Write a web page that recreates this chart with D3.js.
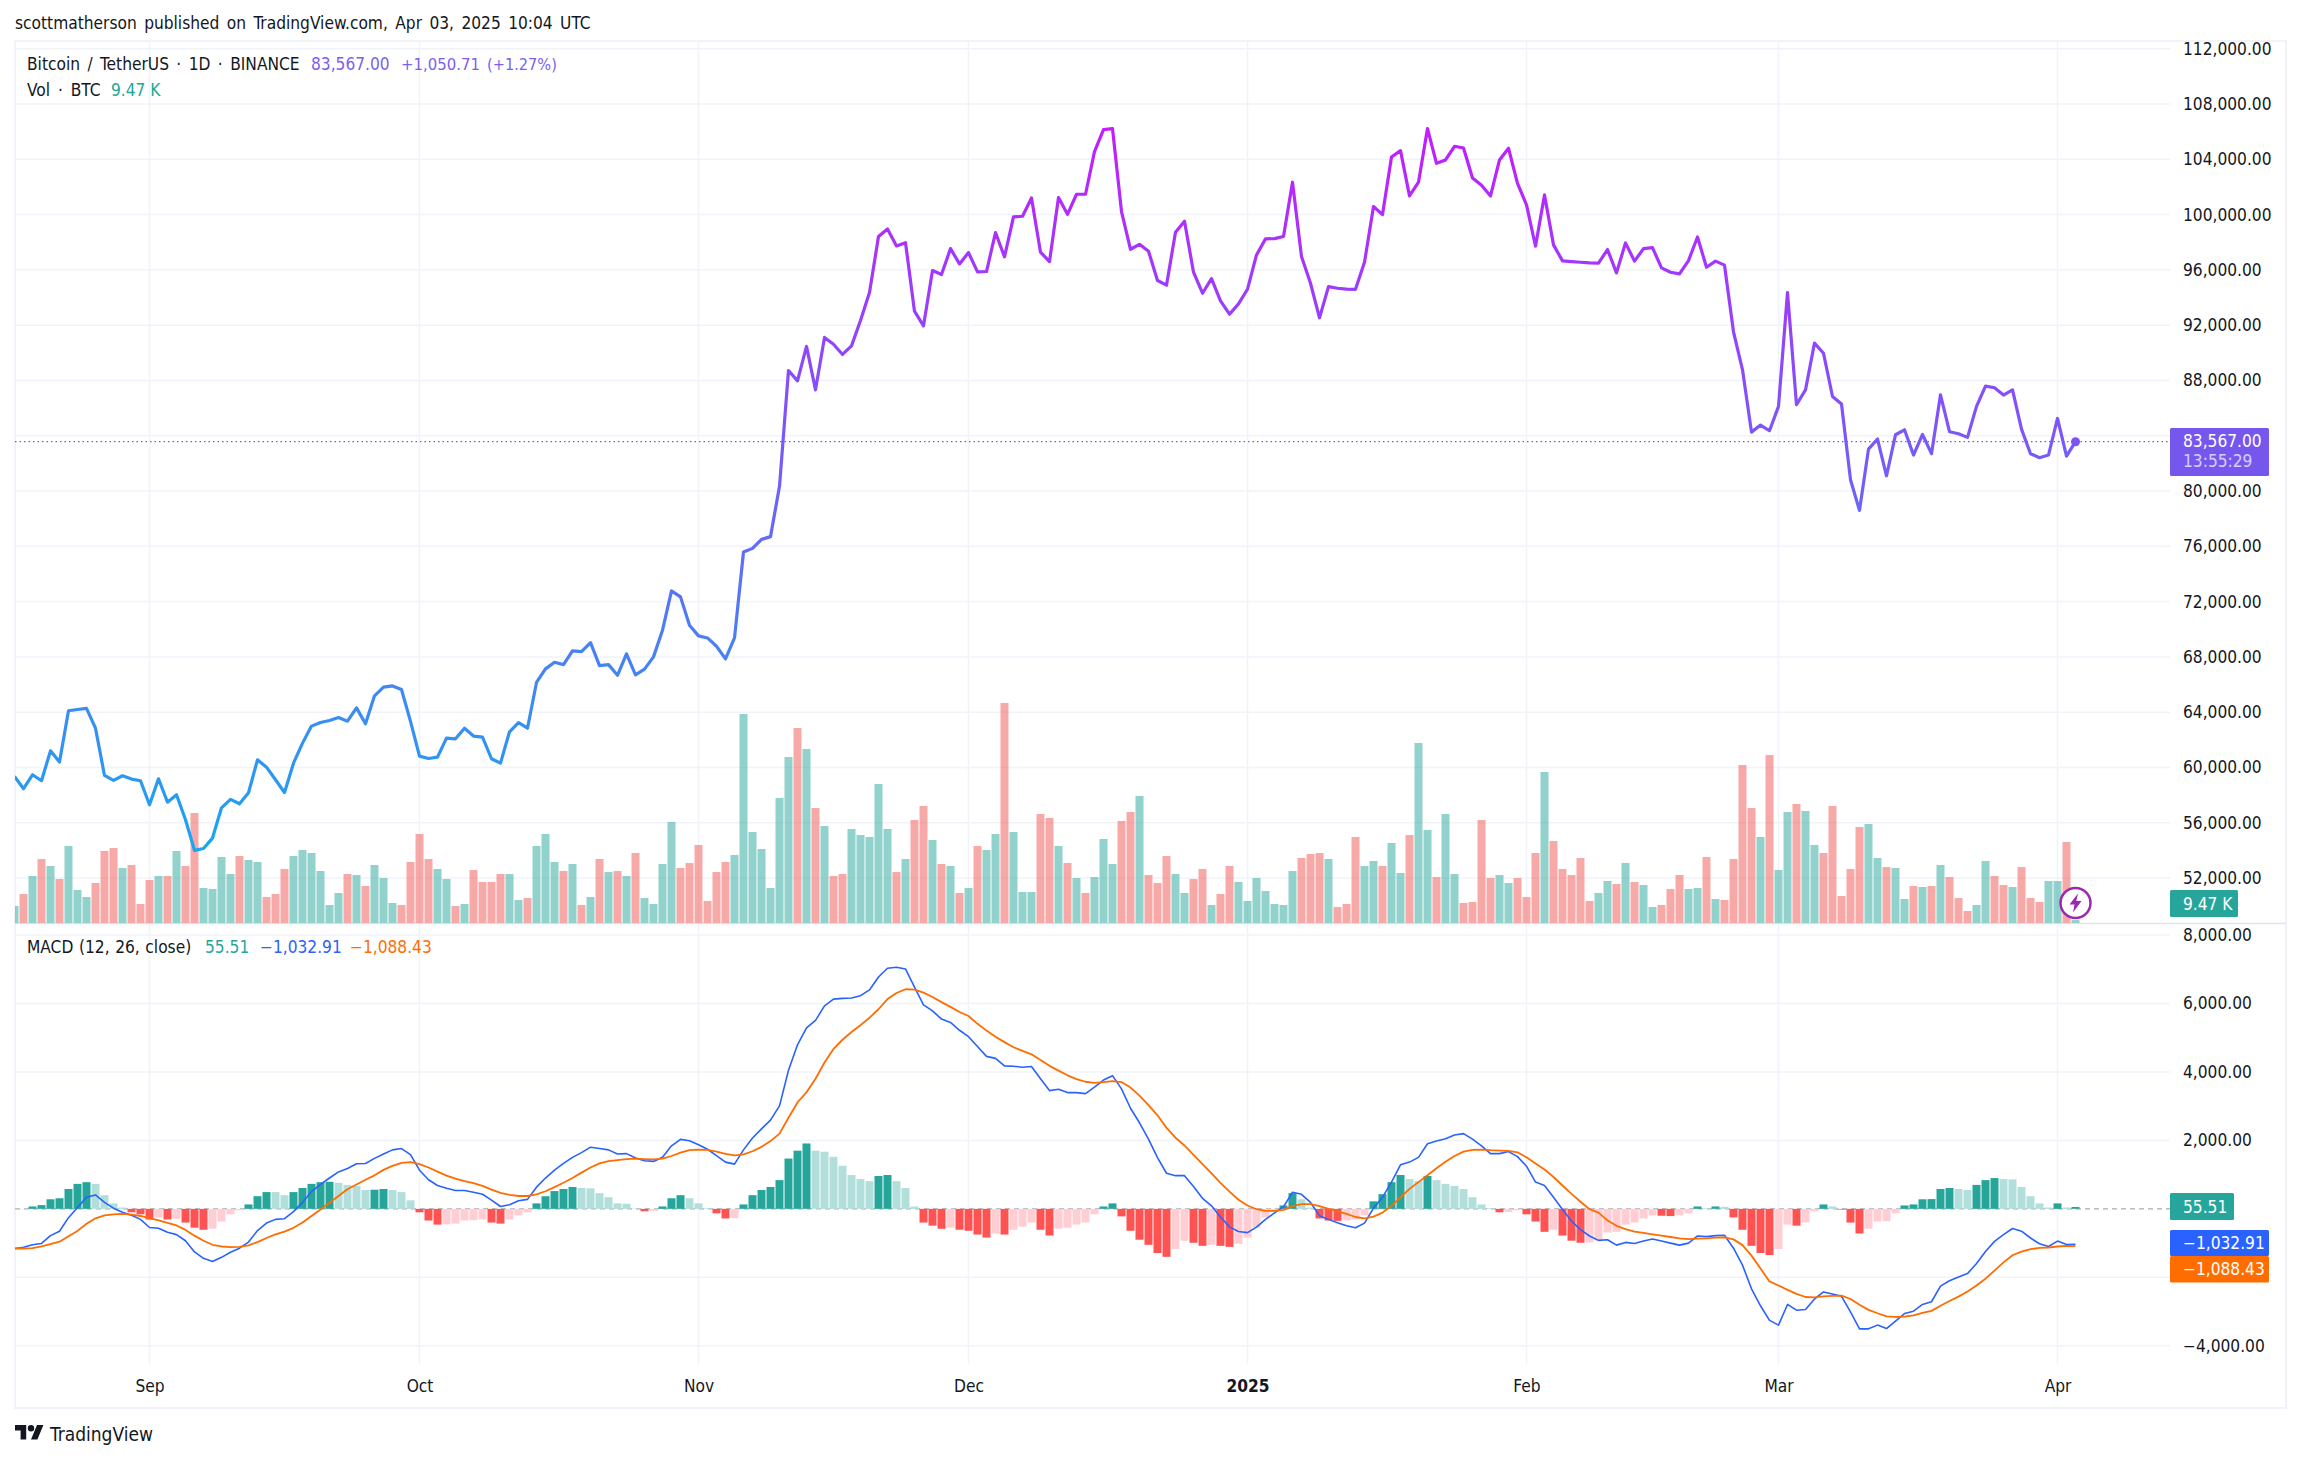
<!DOCTYPE html>
<html>
<head>
<meta charset="utf-8">
<script src="https://d3js.org/d3.v7.min.js"></script>
<style>
  html, body { margin: 0; background: #fff; }
  svg { display: block; }
  text { font-family: "DejaVu Sans Condensed", "DejaVu Sans", sans-serif; font-size: 17.2px; fill: #131722; }
</style>
</head>
<body>
<script>
// Daily bars, first one is Aug 17 2024
const firstDay = new Date(Date.UTC(2024, 7, 17));

const close = [
  59350,58460,59470,59040,61200,60390,64100,64190,64270,62840,
  59420,59060,59400,59160,59040,57300,59180,57490,58020,56220,
  54000,54140,54890,57080,57690,57370,58170,60550,60020,59110,
  58190,60310,61760,62990,63250,63400,63610,63350,64310,63160,
  65180,65810,65900,65640,63330,60820,60650,60750,62120,62070,
  62840,62270,62190,60630,60310,62580,63250,62840,66150,67130,
  67610,67440,68430,68380,69030,67370,67440,66670,68210,66700,
  67110,68000,69930,72770,72340,70290,69520,69370,68770,67850,
  69370,75590,75850,76500,76700,80340,88720,87970,90460,87320,
  91110,90620,89880,90500,92340,94360,98410,98960,97730,97970,
  93010,91950,95950,95660,97540,96430,97250,95850,95880,98700,
  96940,99830,99880,101200,97280,96600,101230,100020,101470,101470,
  104550,106140,106220,100220,97490,97850,97350,95230,94890,98720,
  99520,95830,94310,95370,93760,92790,93540,94600,97080,98240,
  98260,98410,102340,96960,95030,92530,94790,94670,94600,94590,
  96550,100580,100000,104170,104630,101350,102340,106220,103710,103950,
  104940,104820,102650,102120,101350,103950,104800,102260,100700,97710,
  101420,97810,96650,96600,96550,96500,96490,97470,95780,97950,
  96630,97540,97610,96140,95830,95710,96670,98380,96190,96630,
  96340,91520,88770,84260,84770,84360,86120,94360,86240,87320,
  90700,89970,86840,86290,80820,78600,83030,83760,81100,84070,
  84430,82600,84090,82700,86960,84290,84140,83880,86120,87590,
  87470,86940,87320,84480,82700,82410,82600,85250,82530,83567
];

// Volume in thousands of BTC
const volume = [
  16.5,22.5,31.5,40,36.5,30,46.5,24.5,21,28,
  44,45.5,35.5,37,17.5,29.5,31.5,31.5,44,36.5,
  63,25.5,25,41,32.5,41.5,39.5,38.5,21,22.5,
  35,41.5,44.5,43,34,17,23,32.5,32,26.5,
  37,30.5,18,17,38.5,52.5,40,35,30,16.5,
  17.5,34.5,28.5,28.5,32.5,32.5,19.5,20.5,46.5,52.5,
  38.5,34,37.5,17,21,40,33.5,34,31.5,43,
  20.5,17.5,37.5,58.5,35.5,38,47,19,33.5,38.5,
  42,112.5,53.5,45,25.5,70.5,91,105.5,95,65.5,
  56.5,31.5,32.5,55,52,51,77.5,55,33.5,40,
  59.5,66.5,49.5,37.5,36.5,23,25.5,46.5,44.5,52.5,
  118,53.5,23.5,23.5,62.5,60.5,46.5,38,30.5,23,
  31,50,37.5,59,63.5,71.5,32,28,41.5,32.5,
  23,30,35,17,22.5,36.5,28.5,19,30.5,24,
  17.5,17,34,40.5,42.5,43,40,16,17.5,51,
  36.5,39,36.5,48,33,52,98,54.5,31,62.5,
  32.5,18,18.5,59.5,30.5,32,28,30.5,21,43,
  83.5,49,35,32,40.5,19,23,29,27.5,38,
  28.5,27,16,17,25,32,25,25.5,41,20,
  19.5,40,87,65.5,51,92,34.5,63.5,67.5,64,
  47,43,66.5,21.5,35,56,57.5,40.5,36,35.5,
  20,26.5,26,26.5,37,31,20.5,14,17,39,
  31.5,27,26,36,20.5,18.5,29,29,48.5,9.47
];

// g = up day, r = down day
const volumeSide = [
  "grgrgrgggr","rrgrrrgrgr","rggggrggrr","rggggggrgr","gggrrrrggr","grrrrggrgg",
  "grgrgrgrgr","ggggrrrrrr","gggggggr",
  "grgrrggggg","rgrrgrgrgr","ggrgggrrgr","grgggrrgrr","rggrrgrrgg","gggggrrrgr",
  "rrggrggrgg","rggrrrrggr","rrgrrrrrgg","rgrggrrrgg","rgrrrrgrgg","rggrrrrrgg",
  "rggrgrgrrr","ggrrgrrrgg","rg"
].join("");

const histogram = [
  -10,-10,70,110,280,310,580,730,780,730,
  400,160,40,-100,-160,-310,-250,-310,-290,-400,
  -550,-610,-580,-370,-160,-40,130,370,490,490,
  400,490,610,730,780,790,760,700,670,550,
  560,580,550,490,250,-100,-340,-460,-450,-430,
  -340,-330,-310,-400,-430,-310,-190,-100,160,370,
  520,580,640,610,600,460,340,160,150,10,
  -70,-60,70,310,400,310,160,20,-130,-280,
  -270,130,400,550,640,840,1470,1700,1910,1700,
  1670,1520,1260,990,870,810,960,990,810,610,
  70,-400,-490,-580,-550,-610,-640,-750,-840,-720,
  -750,-610,-520,-400,-610,-780,-580,-550,-460,-400,
  -160,70,160,-220,-640,-900,-1050,-1290,-1400,-1170,
  -930,-990,-1080,-1050,-1080,-1110,-1020,-840,-550,-250,
  -80,100,460,280,40,-280,-340,-350,-340,-310,
  -190,220,430,780,990,870,810,960,840,730,
  670,580,340,130,20,-100,-90,-40,-160,-370,
  -670,-610,-780,-930,-990,-980,-930,-690,-670,-460,
  -400,-280,-190,-200,-210,-190,-130,70,20,70,
  60,-250,-610,-1080,-1290,-1350,-1170,-460,-490,-400,
  -70,130,70,-20,-400,-720,-580,-370,-360,-130,
  100,130,280,285,580,610,580,550,700,840,
  900,870,860,640,370,160,40,160,40,55.51
];

const macd = [
  -1158,-1119,-1049,-1010,-782,-653,-257,40,337,406,
  188,20,-99,-188,-307,-545,-564,-683,-752,-931,
  -1257,-1445,-1535,-1416,-1267,-1148,-970,-634,-416,-307,
  -287,-79,188,505,713,901,1079,1178,1317,1327,
  1475,1604,1723,1762,1584,1129,851,683,604,535,
  535,485,426,257,69,119,238,277,634,901,
  1129,1327,1505,1643,1802,1762,1723,1604,1614,1485,
  1406,1386,1505,1841,2030,1990,1871,1742,1554,1366,
  1307,1723,2069,2336,2594,3010,4049,4792,5287,5504,
  5930,6128,6148,6158,6227,6395,6772,7029,7059,7009,
  6475,5960,5782,5544,5445,5217,5029,4742,4455,4396,
  4178,4168,4138,4158,3802,3455,3495,3396,3396,3366,
  3554,3762,3891,3505,2940,2515,2039,1495,1040,970,
  970,653,307,89,-238,-525,-663,-693,-535,-307,
  -119,59,485,426,188,-198,-307,-406,-495,-554,
  -416,20,337,782,1287,1366,1505,1901,1980,2049,
  2158,2198,2039,1841,1614,1614,1673,1525,1247,782,
  683,337,-20,-356,-604,-792,-921,-901,-1059,-980,
  -1010,-941,-881,-941,-1000,-1059,-1000,-792,-812,-782,
  -772,-1148,-1643,-2336,-2831,-3257,-3396,-2792,-2960,-2940,
  -2633,-2426,-2485,-2554,-3010,-3505,-3505,-3396,-3495,-3277,
  -3059,-2990,-2792,-2713,-2257,-2099,-1990,-1891,-1594,-1247,
  -950,-752,-574,-653,-851,-1020,-1099,-941,-1040,-1032.91
];

const signal = [
  -1158,-1158,-1148,-1099,-1030,-960,-802,-644,-436,-277,
  -188,-158,-149,-168,-208,-267,-337,-406,-485,-614,
  -782,-931,-1049,-1099,-1119,-1109,-1069,-970,-851,-743,
  -663,-554,-396,-208,-20,178,376,574,713,851,
  980,1139,1257,1346,1366,1307,1208,1089,970,881,
  812,752,673,564,465,406,376,376,426,515,
  634,762,901,1059,1208,1327,1396,1426,1455,1465,
  1455,1445,1465,1544,1643,1713,1733,1723,1673,1604,
  1564,1594,1683,1812,1980,2198,2663,3109,3406,3802,
  4277,4673,4940,5168,5366,5584,5831,6128,6306,6415,
  6405,6316,6188,6039,5900,5752,5633,5405,5207,5029,
  4871,4722,4613,4514,4346,4178,4039,3901,3792,3713,
  3683,3703,3732,3703,3544,3307,3029,2732,2366,2079,
  1851,1574,1307,1040,762,505,267,99,-10,-59,
  -59,-30,79,139,139,79,0,-69,-149,-238,
  -277,-228,-109,89,337,584,782,980,1188,1376,
  1544,1673,1723,1733,1713,1703,1693,1653,1505,1327,
  1148,931,683,436,208,-10,-109,-337,-495,-594,
  -663,-703,-743,-782,-822,-861,-881,-871,-861,-842,
  -832,-891,-1059,-1366,-1742,-2119,-2237,-2366,-2485,-2574,
  -2584,-2554,-2544,-2534,-2633,-2802,-2950,-3049,-3138,-3158,
  -3148,-3109,-3039,-2980,-2831,-2693,-2564,-2416,-2237,-2039,
  -1802,-1564,-1356,-1247,-1178,-1139,-1129,-1099,-1079,-1088.43
];

const priceTicks = [112000,108000,104000,100000,96000,92000,88000,84000,80000,76000,72000,68000,64000,60000,56000,52000];
const macdTicks = [8000,6000,4000,2000,-2000,-4000];
// These two labels sit under the value tags in the reference, only their grid lines show
const coveredTicks = [84000,-2000];
const monthTicks = [[2024,8],[2024,9],[2024,10],[2024,11],[2025,0],[2025,1],[2025,2],[2025,3]];
const monthLabels = ["Sep","Oct","Nov","Dec","2025","Feb","Mar","Apr"];

const days = close.map((d, i) => d3.utcDay.offset(firstDay, i));
const monthDates = monthTicks.map(d => new Date(Date.UTC(d[0], d[1], 1)));

const opts = {
    width: 2301, height: 1460,
    left: 15, top: 41, right: 2286, bottom: 1408,
    plotRight: 2170, paneBreak: 923, timeTop: 1364.5,
    barWidth: 8
};

const x = d3.scaleUtc().domain([days[0], days[229]]).range([14.5, 2075.5]);
const yPrice = d3.scaleLinear().domain([108000, 76000]).range([104, 546.3]);
const yVolume = d3.scaleLinear().domain([8, 118]).range([opts.paneBreak, opts.paneBreak - 220]);
const yMacd = d3.scaleLinear().domain([8000, -4000]).range([935, 1345.8]);

const fmt = d3.format(",.2f");
const minus = s => s.replace("-", "\u2212");

const svg = d3.select("body").append("svg")
    .attr("width", opts.width).attr("height", opts.height);

const defs = svg.append("defs");

defs.append("clipPath").attr("id", "plotClip").append("rect")
    .attr("x", opts.left).attr("y", opts.top)
    .attr("width", opts.plotRight - opts.left).attr("height", opts.timeTop - opts.top);
defs.append("clipPath").attr("id", "axisClip").append("rect")
    .attr("x", opts.plotRight).attr("y", opts.top)
    .attr("width", opts.right - opts.plotRight).attr("height", opts.timeTop - opts.top);

const grad = defs.append("linearGradient").attr("id", "priceGrad")
    .attr("gradientUnits", "userSpaceOnUse")
    .attr("x1", 0).attr("x2", 0).attr("y1", 125).attr("y2", 860);
grad.append("stop").attr("offset", 0).attr("stop-color", "#c41cff");
grad.append("stop").attr("offset", 1).attr("stop-color", "#18a8f0");

drawGrid();
drawFrame();
drawVolume();
drawPrice();
drawMacd();
drawAxes();
drawLegends();
drawTags();
drawFooter();

// Light grid behind everything
function drawGrid() {
    const g = svg.append("g").attr("stroke", "#f0f3fa").attr("stroke-width", 1.5);
    g.selectAll(".vgrid").data(monthDates).enter().append("line")
        .attr("x1", d => x(d)).attr("x2", d => x(d))
        .attr("y1", opts.top).attr("y2", opts.timeTop);
    g.selectAll(".pgrid").data(priceTicks).enter().append("line")
        .attr("x1", opts.left).attr("x2", opts.plotRight)
        .attr("y1", d => yPrice(d)).attr("y2", d => yPrice(d));
    g.selectAll(".mgrid").data(macdTicks).enter().append("line")
        .attr("x1", opts.left).attr("x2", opts.plotRight)
        .attr("y1", d => yMacd(d)).attr("y2", d => yMacd(d));
}

function drawFrame() {
    svg.append("rect")
        .attr("x", opts.left).attr("y", opts.top)
        .attr("width", opts.right - opts.left).attr("height", opts.bottom - opts.top)
        .attr("fill", "none").attr("stroke", "#f0f3fa").attr("stroke-width", 2);
    svg.append("line")
        .attr("x1", opts.left).attr("x2", opts.right)
        .attr("y1", opts.paneBreak + 0.5).attr("y2", opts.paneBreak + 0.5)
        .attr("stroke", "#e0e3eb").attr("stroke-width", 1.5);
}

function drawVolume() {
    svg.append("g").attr("clip-path", "url(#plotClip)")
        .selectAll("rect").data(volume).enter().append("rect")
        .attr("x", (d, i) => x(days[i]) - opts.barWidth / 2)
        .attr("width", opts.barWidth)
        .attr("y", d => yVolume(d))
        .attr("height", d => opts.paneBreak - yVolume(d))
        .attr("fill", (d, i) => volumeSide[i] === "g" ? "#26a69a" : "#ef5350")
        .attr("opacity", 0.5);
}

function drawPrice() {
    const last = close[close.length - 1];
    svg.append("line")
        .attr("x1", opts.left).attr("x2", opts.plotRight)
        .attr("y1", yPrice(last)).attr("y2", yPrice(last))
        .attr("stroke", "#7253ee").attr("stroke-width", 1.2)
        .attr("stroke-dasharray", "1.5 3");

    const line = d3.line().x((d, i) => x(days[i])).y(d => yPrice(d));
    svg.append("path").datum(close)
        .attr("clip-path", "url(#plotClip)")
        .attr("d", line)
        .attr("fill", "none")
        .attr("stroke", "url(#priceGrad)")
        .attr("stroke-width", 3.2)
        .attr("stroke-linejoin", "round");

    svg.append("circle")
        .attr("cx", x(days[229])).attr("cy", yPrice(last)).attr("r", 4.5)
        .attr("fill", "#7a55f2");
}

// Colour follows TradingView's rule: dark while the bar grows, pale while it shrinks
function histColor(d, i) {
    const prev = i > 0 ? histogram[i - 1] : d;
    if (d >= 0) return d > prev ? "#26a69a" : "#b2dfdb";
    return d < prev ? "#ff5252" : "#ffcdd2";
}

function drawMacd() {
    svg.append("line")
        .attr("x1", opts.left).attr("x2", opts.plotRight)
        .attr("y1", yMacd(0)).attr("y2", yMacd(0))
        .attr("stroke", "#a8abb5").attr("stroke-width", 1.2)
        .attr("stroke-dasharray", "5 4");

    svg.append("g").attr("clip-path", "url(#plotClip)")
        .selectAll("rect").data(histogram).enter().append("rect")
        .attr("x", (d, i) => x(days[i]) - opts.barWidth / 2)
        .attr("width", opts.barWidth)
        .attr("y", d => Math.min(yMacd(d), yMacd(0)))
        .attr("height", d => Math.abs(yMacd(d) - yMacd(0)))
        .attr("fill", histColor);

    const line = d3.line().x((d, i) => x(days[i])).y(d => yMacd(d));
    const g = svg.append("g").attr("clip-path", "url(#plotClip)")
        .attr("fill", "none").attr("stroke-linejoin", "round");
    g.append("path").datum(macd).attr("d", line).attr("stroke", "#2962ff").attr("stroke-width", 1.6);
    g.append("path").datum(signal).attr("d", line).attr("stroke", "#ff6d00").attr("stroke-width", 1.8);
}

function drawAxes() {
    const right = svg.append("g").attr("clip-path", "url(#axisClip)");
    const shown = ticks => ticks.filter(d => !coveredTicks.includes(d));

    const priceAxis = d3.axisRight(yPrice).tickValues(shown(priceTicks))
        .tickFormat(fmt).tickSize(0).tickPadding(13);
    right.append("g").attr("transform", `translate(${opts.plotRight},0)`).call(priceAxis)
        .call(g => g.select(".domain").remove());

    const macdAxis = d3.axisRight(yMacd).tickValues(shown(macdTicks))
        .tickFormat(d => minus(fmt(d))).tickSize(0).tickPadding(13);
    right.append("g").attr("transform", `translate(${opts.plotRight},0)`).call(macdAxis)
        .call(g => g.select(".domain").remove());

    const timeAxis = d3.axisBottom(x).tickValues(monthDates)
        .tickFormat((d, i) => monthLabels[i]).tickSize(0).tickPadding(15);
    svg.append("g").attr("transform", `translate(0,${opts.timeTop})`).call(timeAxis)
        .call(g => g.select(".domain").remove())
        .selectAll("text")
        .attr("font-weight", (d, i) => monthLabels[i] === "2025" ? "bold" : null);

    // d3 sets attributes on the group, css above handles the font
    svg.selectAll(".tick text").style("fill", "#131722");
}

function label(txt, px, py, color, wordGap) {
    return svg.append("text")
        .attr("x", px).attr("y", py)
        .attr("dy", "0.35em")
        .style("fill", color || "#131722")
        .style("word-spacing", wordGap ? wordGap + "px" : null)
        .text(txt);
}

function drawLegends() {
    label("scottmatherson published on TradingView.com, Apr 03, 2025 10:04 UTC", 15, 23, null, 2.5);

    const purple = "#7b5ff0";
    label("Bitcoin / TetherUS \u00b7 1D \u00b7 BINANCE", 27, 64, null, 2.5);
    label("83,567.00", 311, 64, purple);
    label("+1,050.71", 401, 64, purple).style("font-size", "16.6px");
    label("(+1.27%)", 487, 64, purple).style("font-size", "16.2px");

    label("Vol \u00b7 BTC", 27, 90, null, 3);
    label("9.47 K", 111, 90, "#26a69a");

    label("MACD (12, 26, close)", 27, 947, null, 0.7);
    label("55.51", 205, 947, "#26a69a");
    label(minus("-1,032.91"), 260, 947, "#2962ff");
    label(minus("-1,088.43"), 350, 947, "#ff6d00");
}

function tag(y0, y1, x1, color, txt) {
    svg.append("rect")
        .attr("x", opts.plotRight).attr("y", y0)
        .attr("width", x1 - opts.plotRight).attr("height", y1 - y0)
        .attr("rx", 1.5).attr("fill", color);
    if (txt) label(txt, opts.plotRight + 13, (y0 + y1) / 2, "#fff");
}

function drawTags() {
    tag(428, 476, 2269, "#7657ee");
    label("83,567.00", opts.plotRight + 13, 441, "#fff");
    label("13:55:29", opts.plotRight + 13, 461, "#fff").style("opacity", 0.7);

    tag(890, 917, 2238, "#26a69a", "9.47 K");
    tag(1193, 1220, 2234, "#26a69a", "55.51");
    tag(1230, 1256, 2269, "#2962ff", minus("-1,032.91"));
    tag(1256, 1282.5, 2269, "#ff6d00", minus("-1,088.43"));

    // Lightning badge on the last bar
    const cx = x(days[229]), cy = 903;
    svg.append("circle")
        .attr("cx", cx).attr("cy", cy).attr("r", 15)
        .attr("fill", "#fff").attr("stroke", "#9c27b0").attr("stroke-width", 2.5);
    svg.append("path")
        .attr("transform", `translate(${cx},${cy})`)
        .attr("d", "M2.5,-9.5 L-6,1.5 L-1,1.5 L-2.5,9.5 L6,-2 L0.8,-2 Z")
        .attr("fill", "#9c27b0");
}

function drawFooter() {
    const logo = svg.append("g").attr("transform", "translate(15,1421.8) scale(0.8)")
        .attr("fill", "#131722");
    logo.append("path").attr("d", "M14 22H7V11H0V4h14v18zM28 22h-8l7.5-18h8L28 22z");
    logo.append("circle").attr("cx", 20).attr("cy", 8).attr("r", 4);
    label("TradingView", 50, 1434).style("font-size", "19px");
}
</script>
</body>
</html>
